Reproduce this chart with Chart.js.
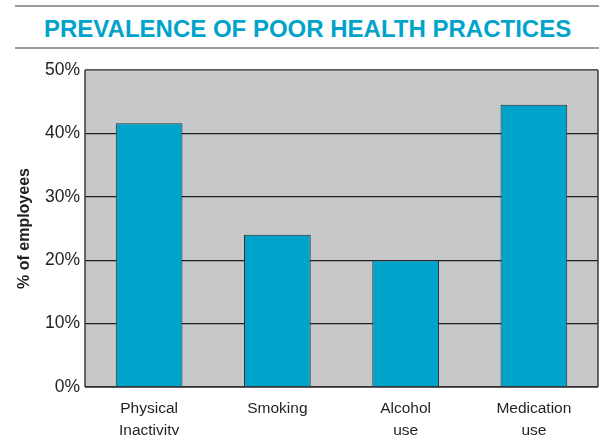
<!DOCTYPE html>
<html>
<head>
<meta charset="utf-8">
<script src="https://cdn.jsdelivr.net/npm/chart.js@4"></script>
<style>
  body { margin: 0; background: #fff; }
  #wrap { position: relative; width: 599px; height: 435px; }
  #head {
    position: absolute; left: 15px; top: 5px; width: 584px; height: 40px;
    border-top: 2px solid #9b9b9d; border-bottom: 2px solid #9b9b9d;
    font: bold 24px "Liberation Sans", Arial, sans-serif; color: #00a3c9;
    line-height: 43px; text-indent: 29px; white-space: nowrap;
  }
  canvas { position: absolute; left: 0; top: 0; }
</style>
</head>
<body>
<div id="wrap">
  <div id="head">PREVALENCE OF POOR HEALTH PRACTICES</div>
  <canvas id="c1" width="599" height="435"></canvas>
</div>
<script>
// Share of employees per health practice
var practices = [['Physical', 'Inactivity'], 'Smoking', ['Alcohol', 'use'], ['Medication', 'use']];
var pctEmployees = [41.6, 24, 20, 44.5];
var yTicks = [0, 10, 20, 30, 40, 50];

// gray plot background + frame
var plotBg = {
  id: 'plotBg',
  beforeDraw: function(chart) {
    var a = chart.chartArea, ctx = chart.ctx;
    ctx.save();
    ctx.fillStyle = '#c7c8ca';
    ctx.fillRect(a.left, a.top, a.right - a.left, a.bottom - a.top);
    ctx.restore();
  },
  afterDatasetsDraw: function(chart) {
    var a = chart.chartArea, ctx = chart.ctx;
    ctx.save();
    ctx.lineWidth = 1.5;
    ctx.strokeStyle = '#6d6e70';
    ctx.beginPath();
    ctx.moveTo(a.left, a.top); ctx.lineTo(a.right, a.top);
    ctx.stroke();
    ctx.strokeStyle = '#3a3a3c';
    ctx.beginPath();
    ctx.moveTo(a.left, a.top); ctx.lineTo(a.left, a.bottom);
    ctx.moveTo(a.right, a.top); ctx.lineTo(a.right, a.bottom);
    ctx.moveTo(a.left, a.bottom); ctx.lineTo(a.right, a.bottom);
    ctx.stroke();
    ctx.restore();
  }
};

var ctx = document.getElementById('c1').getContext('2d');
var chart1 = new Chart(ctx, {
  type: 'bar',
  data: {
    labels: practices,
    datasets: [{
      data: pctEmployees,
      backgroundColor: '#00a3c9',
      borderColor: '#2b2b2d',
      borderWidth: 1,
      barPercentage: 0.52,
      categoryPercentage: 1
    }]
  },
  options: {
    responsive: false,
    animation: false,
    layout: { padding: { top: 70, right: 1, left: 15, bottom: 0 } },
    plugins: { legend: { display: false }, tooltip: { enabled: false } },
    scales: {
      x: {
        grid: { display: false },
        border: { display: false },
        ticks: {
          color: '#231f20', padding: 3,
          font: { family: 'Liberation Sans', size: 15.5, lineHeight: 1.4 },
          maxRotation: 0
        },
        afterFit: function(s) { s.height = 48; }
      },
      y: {
        min: 0, max: 50,
        afterBuildTicks: function(s) { s.ticks = yTicks.map(function(v) { return { value: v }; }); },
        grid: { color: '#1f1f21', lineWidth: 1.2, drawTicks: false },
        border: { display: false },
        ticks: {
          color: '#231f20', padding: 5,
          font: { family: 'Liberation Sans', size: 17.5 },
          callback: function(v) { return v + '%'; }
        },
        title: {
          display: true, text: '% of employees', color: '#231f20',
          font: { family: 'Liberation Sans', size: 16, weight: 'bold' },
          padding: { top: 0, bottom: 0 }
        },
        afterFit: function(s) { s.width = 70; }
      }
    }
  },
  plugins: [plotBg]
});
</script>
</body>
</html>
